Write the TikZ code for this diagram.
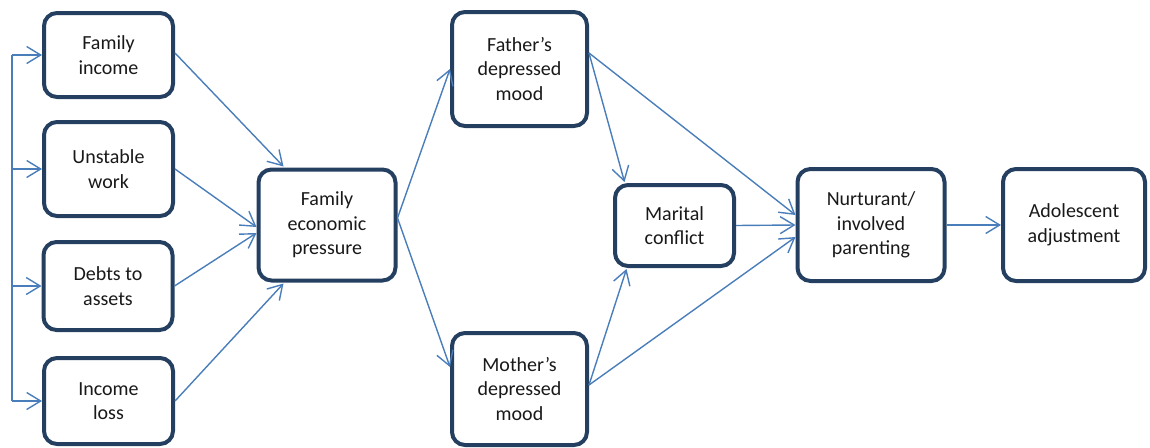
\documentclass[tikz,border=0pt]{standalone}
\usepackage{fontspec}
\setmainfont{Carlito}
\usetikzlibrary{arrows.meta,calc}
\definecolor{boxline}{HTML}{243F60}
\definecolor{arrblue}{HTML}{4A7EBB}
\begin{document}
\begin{tikzpicture}[x=1pt,y=-1pt,
  box/.style={draw=boxline,line width=4pt,rounded corners=13pt,fill=white,
    align=center,inner sep=2pt,font=\fontsize{20pt}{24.5pt}\selectfont,text=black!90},
  arr/.style={draw=arrblue,line width=1.4pt,-{Straight Barb[length=14pt,width=17pt,line width=1.4pt]}},
  ln/.style={draw=arrblue,line width=1.4pt}]
\useasboundingbox (0,0) rectangle (1150,447);
\node[box,minimum width=129pt,minimum height=84pt] (fi) at (108.5,55) {Family\\income};
\node[box,minimum width=129pt,minimum height=94pt] (uw) at (108.5,169) {Unstable\\work};
\node[box,minimum width=129pt,minimum height=88pt] (da) at (108,286) {Debts to\\assets};
\node[box,minimum width=129pt,minimum height=86pt] (il) at (108.5,401) {Income\\loss};
\node[box,minimum width=137pt,minimum height=111pt] (fep) at (327,225) {Family\\economic\\pressure};
\node[box,minimum width=135pt,minimum height=114pt] (fa) at (519.5,69) {Father’s\\depressed\\mood};
\node[box,minimum width=135pt,minimum height=112pt] (mo) at (519.5,389) {Mother’s\\depressed\\mood};
\node[box,minimum width=119pt,minimum height=81pt] (mc) at (674.5,225.5) {Marital\\conflict};
\node[box,minimum width=147pt,minimum height=112pt] (np) at (871,225) {Nurturant/\\involved\\parenting};
\node[box,minimum width=142pt,minimum height=112pt] (ad) at (1074,225) {Adolescent\\adjustment};
\coordinate (brx) at (12,0);
\draw[ln] (fi.west -| brx) -- (il.west -| brx);
\draw[arr] (fi.west -| brx) -- (fi.west);
\draw[arr] (uw.west -| brx) -- (uw.west);
\draw[arr] (da.west -| brx) -- (da.west);
\draw[arr] (il.west -| brx) -- (il.west);
\draw[arr] ($(fi.east)+(0,-2)$) -- ($(fep.north west)+(27,-1)$);
\draw[arr] (uw.east) -- ($(fep.west)+(0,2)$);
\draw[arr] (da.east) -- ($(fep.west)+(0,8)$);
\draw[arr] (il.east) -- ($(fep.south west)+(27,1)$);
\draw[arr] ($(fep.east)+(0,-7)$) -- (fa.west);
\draw[arr] ($(fep.east)+(0,-7)$) -- ($(mo.west)+(0,-22)$);
\draw[arr] ($(fa.east)+(0,-16)$) -- ($(mc.north)+(-50,-1)$);
\draw[arr] ($(fa.east)+(0,-16)$) -- ($(np.west)+(0,-10)$);
\draw[arr] (mc.east) -- (np.west);
\draw[arr] ($(mo.east)+(0,-4)$) -- ($(mc.south)+(-48,1)$);
\draw[arr] ($(mo.east)+(0,-4)$) -- ($(np.west)+(0,12)$);
\draw[arr] (np.east) -- (ad.west);
\end{tikzpicture}
\end{document}
